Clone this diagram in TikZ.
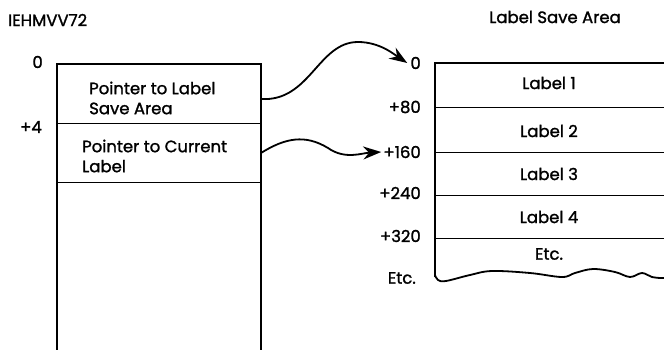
\documentclass[tikz,border=0pt]{standalone}
\usepackage{fontspec}
\newfontfamily\memfont[FakeBold=1.4]{Poppins}
\usetikzlibrary{calc,positioning,arrows.meta}

\begin{document}
\begin{tikzpicture}[x=1pt,y=-1pt,
    every node/.style={font=\memfont\fontsize{16.5}{20}\selectfont,inner sep=0pt},
    outer/.style={line width=1.8pt},
    divider/.style={line width=1pt},
    ptrarrow/.style={line width=1.8pt,-{Stealth[length=18pt,width=13pt]}},
    offset/.style={anchor=east},
    slot/.style={anchor=center}]
    \useasboundingbox (0,0) rectangle (664,350);
    \clip (0,0) rectangle (664,350);

    % left control block
    \node[anchor=west] (modname) at (8,20) {IEHMVV72};
    \draw[outer] (57,350) -- (57,64) -- (261,64) -- (261,350);
    \draw[divider] (57,124) -- (261,124);
    \draw[divider] (57,182) -- (261,182);
    \node[offset] (lzero) at (43,62) {0};
    \node[offset] (lfour) at (42,127) {+4};
    \node[anchor=west,align=left] (savept) at (89,98) {Pointer to Label\\Save Area};
    \node[anchor=west,align=left] (curpt) at (82,156) {Pointer to Current\\Label};
    \coordinate (saveout) at (261,99);
    \coordinate (curout) at (261,153);

    % label save area
    \node (areaname) at (555,17) {Label Save Area};
    \draw[outer] (435,277) -- (435,63) -- (670,63);
    \foreach \y in {108,153,195,238}
        \draw[divider] (435,\y) -- (670,\y);
    \draw[outer] plot[smooth,tension=0.6] coordinates {(435,275) (438,280) (446,281) (470,275)
        (492,271) (530,273) (562,277) (575,273) (593,269) (615,272) (630,277)
        (642,273) (652,277) (664,278) (672,276)};
    \node[offset] (rzero) at (421,63) {0};
    \node[offset] (reighty) at (421,107) {+80};
    \node[offset] (ronesixty) at (421,152) {+160};
    \node[offset] (rtwoforty) at (421,193) {+240};
    \node[offset] (rthreetwenty) at (421,236) {+320};
    \node[offset] (retc) at (416,278) {Etc.};
    \node[slot] (labone) at (549,83) {Label 1};
    \node[slot] (labtwo) at (549,131) {Label 2};
    \node[slot] (labthree) at (549,174) {Label 3};
    \node[slot] (labfour) at (549,217) {Label 4};
    \node[slot] (labetc) at (549,254) {Etc.};

    % pointers
    \draw[ptrarrow] (saveout) .. controls (310,102) and (318,42) .. (358,42)
        .. controls (380,42) and (395,55) .. ([xshift=-3pt]rzero.west);
    \draw[ptrarrow] (curout) .. controls (285,138) and (305,134) .. (328,148)
        .. controls (345,160) and (362,153) .. ([xshift=-2pt]ronesixty.west);
\end{tikzpicture}
\end{document}
